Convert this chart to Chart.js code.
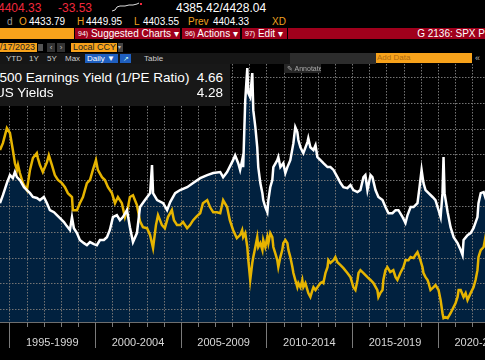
<!DOCTYPE html>
<html>
<head>
<meta charset="utf-8">
<script src="https://cdn.jsdelivr.net/npm/chart.js@4.4.0/dist/chart.umd.min.js"></script>
<style>
  body { margin: 0; background: #000; width: 485px; height: 360px; overflow: hidden; position: relative;
         font-family: "Liberation Sans", Arial, sans-serif; color: #fff; }
  .t { position: absolute; white-space: nowrap; }
  .bar { position: absolute; overflow: hidden; white-space: nowrap; }
  .org { color: #f0a020; }
  .red { color: #f0283c; }
  .fn { font-size: 7px; vertical-align: 1px; }
  #chartBox { position: absolute; left: 0; top: 64px; width: 485px; height: 296px; }
  #legendBox { position: absolute; left: 0; top: 64px; width: 230px; height: 42px; background: #181818; font-size: 13.5px; }
  #legendBox .row { position: absolute; left: 0; width: 223px; height: 16px; line-height: 16px; }
  #legendBox .val { position: absolute; right: 0; top: 0; }
</style>
</head>
<body>

<!-- quote lines -->
<div class="t red" style="left:-2px;top:1px;font-size:12px;line-height:14px">4404.33</div>
<div class="t red" style="left:58px;top:1px;font-size:12px;line-height:14px">-33.53</div>
<svg style="position:absolute;left:111px;top:1px" width="34" height="12">
  <polyline points="1,10 4,9 6,6 9,5 14,5 18,4 22,4 26,3 28,2" fill="none" stroke="#ddd" stroke-width="1"/>
  <rect x="29" y="2" width="2" height="2" fill="#f0283c"/>
</svg>
<div class="t" style="left:176px;top:1px;font-size:12px;line-height:14px">4385.42/4428.04</div>

<div class="t" style="top:16px;font-size:10px;line-height:11px;left:0;width:485px">
  <span class="t" style="left:7px;color:#999">d</span>
  <span class="t org" style="left:19px">O</span>
  <span class="t" style="left:29px">4433.79</span>
  <span class="t org" style="left:77px">H</span>
  <span class="t" style="left:86px">4449.95</span>
  <span class="t org" style="left:134px">L</span>
  <span class="t" style="left:143px">4403.55</span>
  <span class="t org" style="left:188px">Prev</span>
  <span class="t" style="left:213px">4404.33</span>
  <span class="t org" style="left:272px">XD</span>
</div>

<!-- red menu bar -->
<div class="bar" style="left:0;top:28px;width:74px;height:11px;background:#f7a21b"></div>
<div class="bar" style="left:75px;top:28px;width:105px;height:11px;background:#a0001c;font-size:10px;line-height:11px;padding-left:3px;box-sizing:border-box"><span class="fn">94)</span> Suggested Charts &#9662;</div>
<div class="bar" style="left:182px;top:28px;width:58px;height:11px;background:#a0001c;font-size:10px;line-height:11px;padding-left:3px;box-sizing:border-box"><span class="fn">96)</span> Actions &#9662;</div>
<div class="bar" style="left:242px;top:28px;width:45px;height:11px;background:#a0001c;font-size:10px;line-height:11px;padding-left:3px;box-sizing:border-box"><span class="fn">97)</span> Edit &#9662;</div>
<div class="bar" style="left:288px;top:28px;width:197px;height:11px;background:#a0001c;font-size:10px;line-height:11px;text-align:right">G 2136: SPX P</div>

<!-- date / currency row -->
<div class="bar" style="left:0;top:43px;width:37px;height:9px;background:#f7a21b;color:#222;font-size:9px;line-height:9px">/17/2023</div>
<div class="bar" style="left:38px;top:44px;width:5px;height:7px;background:#555"></div>
<div class="bar" style="left:47px;top:43px;width:8px;height:9px;background:#333;color:#bbb;font-size:8px;line-height:9px;text-align:center">&lsaquo;</div>
<div class="bar" style="left:57px;top:43px;width:8px;height:9px;background:#333;color:#bbb;font-size:8px;line-height:9px;text-align:center">&rsaquo;</div>
<div class="bar" style="left:71px;top:43px;width:46px;height:9px;background:#f7a21b;color:#222;font-size:9px;line-height:9px;padding-left:2px;box-sizing:border-box">Local CCY</div>
<div class="bar" style="left:118px;top:43px;width:5px;height:9px;background:#444;color:#bbb;font-size:6px;line-height:9px">&#9662;</div>

<!-- toolbar row -->
<div class="bar" style="left:0;top:53px;width:290px;height:11px;background:#161616"></div>
<div class="t" style="top:53px;left:0;font-size:8px;line-height:11px;color:#ccc;width:290px">
  <span class="t" style="left:6px">YTD</span>
  <span class="t" style="left:29px">1Y</span>
  <span class="t" style="left:47px">5Y</span>
  <span class="t" style="left:65px">Max</span>
  <span class="t" style="left:144px">Table</span>
</div>
<div class="bar" style="left:85px;top:54px;width:33px;height:9px;background:#1f5fbf;color:#fff;font-size:8px;line-height:9px;padding-left:2px;box-sizing:border-box">Daily &#9660;</div>
<div class="bar" style="left:120px;top:54px;width:11px;height:9px;background:#1f5fbf;color:#cfe;font-size:7px;line-height:9px;text-align:center">&#8599;</div>
<div class="bar" style="left:290px;top:53px;width:86px;height:11px;background:#2c2c2c"></div>
<div class="bar" style="left:376px;top:53px;width:96px;height:10px;background:#f7a21b;color:#b06a10;font-size:8px;line-height:10px;padding-left:1px;box-sizing:border-box">Add Data</div>
<div class="t" style="left:475px;top:53px;font-size:9px;line-height:10px;color:#bbb">&laquo;</div>

<div id="chartBox"><canvas id="chart"></canvas></div>

<div id="legendBox">
  <div class="row" style="top:6px"><span class="t" style="left:-31px">S&amp;P 500 Earnings Yield (1/PE Ratio)</span><span class="val">4.66</span></div>
  <div class="row" style="top:21px"><span class="t" style="left:-5px">US Yields</span><span class="val">4.28</span></div>
</div>
<div class="bar" style="left:284px;top:64px;width:37px;height:9px;background:#262626;color:#aaa;font-size:7px;line-height:9px;padding-left:3px;box-sizing:border-box">&#9998; Annotate</div>

<script>
// --- Data (fractional years, percent) ---
const eyYears = [1994.45, 1994.62, 1994.85, 1995.03, 1995.20, 1995.32, 1995.44, 1995.61, 1995.85, 1996.02,
  1996.20, 1996.37, 1996.60, 1996.78, 1997.01, 1997.19, 1997.36, 1997.60, 1997.77, 1997.95,
  1998.18, 1998.35, 1998.53, 1998.65, 1998.76, 1998.94, 1999.11, 1999.35, 1999.52, 1999.70,
  1999.93, 2000.10, 2000.28, 2000.51, 2000.69, 2000.86, 2001.04, 2001.27, 2001.45, 2001.62,
  2001.86, 2002.03, 2002.21, 2002.44, 2002.62, 2002.91, 2003.21, 2003.32, 2003.38, 2003.62,
  2003.97, 2004.20, 2004.38, 2004.67, 2004.96, 2005.37, 2005.72, 2006.13, 2006.54, 2006.89,
  2007.30, 2007.47, 2007.70, 2008.05, 2008.17, 2008.35, 2008.46, 2008.58, 2008.64, 2008.76,
  2008.88, 2008.94, 2009.05, 2009.17, 2009.23, 2009.35, 2009.46, 2009.52, 2009.64, 2009.76,
  2009.81, 2009.93, 2010.05, 2010.11, 2010.22, 2010.34, 2010.40, 2010.63, 2010.69, 2010.81,
  2010.98, 2011.10, 2011.22, 2011.39, 2011.57, 2011.68, 2011.80, 2011.86, 2011.98, 2012.15,
  2012.39, 2012.44, 2012.56, 2012.74, 2012.86, 2012.97, 2013.15, 2013.32, 2013.56, 2013.73,
  2013.91, 2014.14, 2014.32, 2014.49, 2014.72, 2014.90, 2015.07, 2015.31, 2015.48, 2015.66,
  2015.77, 2015.89, 2016.07, 2016.18, 2016.36, 2016.53, 2016.77, 2016.94, 2017.12, 2017.35,
  2017.53, 2017.70, 2017.94, 2018.11, 2018.23, 2018.41, 2018.58, 2018.81, 2018.93, 2019.05,
  2019.16, 2019.28, 2019.46, 2019.69, 2019.86, 2020.04, 2020.16, 2020.27, 2020.33, 2020.39,
  2020.57, 2020.74, 2020.92, 2021.15, 2021.33, 2021.44, 2021.50, 2021.73, 2021.91, 2022.08,
  2022.31, 2022.37, 2022.50, 2022.67, 2022.82];
const eyValues = [5.11, 5.42, 5.89, 6.20, 6.08, 6.32, 6.12, 6.01, 5.73, 5.62,
  5.50, 5.35, 5.31, 5.23, 5.35, 5.11, 4.84, 4.76, 4.65, 4.53,
  4.38, 4.22, 4.07, 4.57, 4.14, 3.95, 3.68, 3.56, 3.48, 3.60,
  3.52, 3.48, 3.68, 3.68, 3.79, 4.07, 4.57, 4.65, 4.45, 4.57,
  4.84, 4.18, 3.60, 3.95, 4.96, 5.23, 5.50, 6.59, 5.50, 5.23,
  5.11, 4.84, 5.15, 5.50, 5.62, 5.73, 5.89, 6.08, 6.20, 6.28,
  6.32, 6.12, 6.32, 6.78, 6.97, 6.66, 6.40, 6.78, 6.51, 9.11,
  10.35, 9.38, 9.22, 10.16, 8.72, 8.06, 7.28, 6.51, 5.89, 5.50,
  5.23, 4.96, 4.76, 5.23, 5.73, 6.01, 6.51, 6.78, 6.90, 6.51,
  6.66, 6.28, 6.51, 6.78, 7.44, 8.06, 7.87, 7.56, 7.28, 7.05,
  7.48, 7.63, 7.28, 7.17, 7.36, 6.90, 6.78, 6.66, 6.51, 6.51,
  6.40, 6.12, 5.89, 5.73, 5.69, 5.81, 5.62, 5.54, 5.62, 6.12,
  6.20, 5.62, 6.20, 6.12, 5.62, 5.35, 5.23, 4.96, 4.72, 4.72,
  4.84, 4.84, 4.57, 4.34, 4.65, 4.96, 4.96, 5.11, 5.73, 6.40,
  5.89, 5.62, 5.50, 5.35, 5.23, 4.84, 4.57, 5.50, 6.90, 5.50,
  4.76, 4.18, 3.79, 3.56, 3.29, 3.10, 3.68, 3.87, 3.95, 4.14,
  4.57, 5.11, 5.50, 5.54, 5.23];

const usYears = [1994.45, 1994.62, 1994.85, 1995.03, 1995.20, 1995.32, 1995.44, 1995.50, 1995.61, 1995.79,
  1996.02, 1996.20, 1996.37, 1996.60, 1996.66, 1996.78, 1996.95, 1997.19, 1997.30, 1997.48,
  1997.65, 1997.83, 1998.06, 1998.24, 1998.41, 1998.65, 1998.70, 1998.94, 1999.11, 1999.29,
  1999.52, 1999.70, 1999.87, 2000.05, 2000.16, 2000.40, 2000.57, 2000.75, 2000.98, 2001.16,
  2001.33, 2001.56, 2001.74, 2001.92, 2002.03, 2002.21, 2002.44, 2002.62, 2002.79, 2003.03,
  2003.21, 2003.38, 2003.55, 2003.67, 2003.90, 2004.07, 2004.25, 2004.48, 2004.60, 2004.78,
  2004.96, 2005.13, 2005.37, 2005.54, 2005.72, 2005.94, 2006.13, 2006.29, 2006.54, 2006.70,
  2006.89, 2007.11, 2007.30, 2007.47, 2007.70, 2007.86, 2008.05, 2008.27, 2008.46, 2008.58,
  2008.64, 2008.76, 2008.88, 2008.94, 2009.05, 2009.17, 2009.23, 2009.35, 2009.46, 2009.52,
  2009.64, 2009.76, 2009.81, 2009.93, 2010.05, 2010.11, 2010.22, 2010.34, 2010.40, 2010.51,
  2010.63, 2010.69, 2010.81, 2010.92, 2010.98, 2011.10, 2011.22, 2011.28, 2011.39, 2011.51,
  2011.57, 2011.68, 2011.80, 2011.86, 2011.98, 2012.09, 2012.15, 2012.27, 2012.39, 2012.44,
  2012.56, 2012.68, 2012.74, 2012.86, 2012.97, 2013.15, 2013.26, 2013.32, 2013.44, 2013.56,
  2013.61, 2013.73, 2013.91, 2014.02, 2014.14, 2014.32, 2014.49, 2014.72, 2014.90, 2015.07,
  2015.19, 2015.31, 2015.37, 2015.48, 2015.66, 2015.89, 2016.07, 2016.24, 2016.47, 2016.53,
  2016.64, 2016.77, 2016.82, 2016.94, 2017.05, 2017.22, 2017.40, 2017.53, 2017.64, 2017.81,
  2017.99, 2018.11, 2018.28, 2018.41, 2018.58, 2018.69, 2018.81, 2018.98, 2019.10, 2019.16,
  2019.28, 2019.40, 2019.46, 2019.57, 2019.75, 2019.86, 2020.04, 2020.16, 2020.27, 2020.33,
  2020.45, 2020.57, 2020.74, 2020.92, 2021.03, 2021.15, 2021.21, 2021.33, 2021.50, 2021.62,
  2021.73, 2021.91, 2022.08, 2022.20, 2022.31, 2022.37, 2022.50, 2022.67, 2022.82];
const usValues = [7.17, 7.44, 8.02, 7.83, 7.17, 6.66, 6.40, 6.59, 6.28, 5.89,
  5.62, 6.40, 6.86, 7.05, 6.86, 6.59, 6.32, 6.70, 6.97, 6.59,
  6.20, 6.01, 5.89, 5.73, 5.50, 5.35, 4.84, 4.84, 5.11, 5.35,
  5.89, 6.01, 6.40, 6.78, 6.40, 6.12, 6.01, 5.73, 5.50, 5.11,
  5.35, 5.11, 4.57, 4.96, 5.35, 5.42, 5.04, 4.41, 4.18, 4.14,
  3.87, 3.37, 4.26, 4.65, 4.26, 4.14, 4.57, 4.84, 4.45, 4.26,
  4.26, 4.38, 4.14, 4.26, 4.45, 4.61, 4.72, 5.11, 5.23, 4.96,
  4.76, 4.76, 4.72, 5.23, 4.96, 4.45, 4.07, 3.75, 3.87, 4.07,
  3.79, 3.95, 3.41, 2.90, 2.13, 2.79, 3.02, 3.41, 3.79, 3.41,
  3.56, 3.29, 3.68, 3.41, 3.79, 3.56, 3.95, 3.79, 3.41, 3.17,
  2.90, 2.63, 3.02, 3.29, 3.56, 3.68, 3.56, 3.29, 3.02, 2.63,
  2.40, 2.13, 1.85, 2.01, 1.85, 2.13, 1.85, 2.01, 1.74, 1.62,
  1.47, 1.74, 1.85, 1.74, 1.85, 2.01, 2.05, 2.01, 2.40, 2.63,
  2.90, 2.79, 2.90, 3.02, 2.82, 2.71, 2.59, 2.40, 2.24, 1.85,
  1.74, 2.13, 2.40, 2.51, 2.40, 2.24, 2.13, 2.01, 1.74, 1.47,
  1.62, 1.74, 2.13, 2.51, 2.63, 2.44, 2.51, 2.24, 2.13, 2.40,
  2.63, 2.90, 2.90, 3.02, 2.98, 3.10, 3.21, 2.90, 2.63, 2.40,
  2.24, 2.13, 2.01, 1.74, 1.85, 1.93, 1.74, 1.35, 0.84, 0.65,
  0.69, 0.65, 0.84, 1.08, 1.23, 1.47, 1.74, 1.74, 1.47, 1.62,
  1.35, 1.62, 1.85, 2.13, 2.51, 3.02, 3.29, 3.41, 3.95];

// axis setup
const yearTicks = [1995, 1996, 1997, 1998, 1999, 2000, 2001, 2002, 2003, 2004, 2005, 2006, 2007, 2008,
  2009, 2010, 2011, 2012, 2013, 2014, 2015, 2016, 2017, 2018, 2019, 2020, 2021, 2022];
const periodStarts = [1990, 1995, 2000, 2005, 2010, 2015, 2020];
const periodLabels = ['1990-1994', '1995-1999', '2000-2004', '2005-2009', '2010-2014', '2015-2019', '2020-2024'];
const yGridValues = [1, 2, 3, 4, 5, 6, 7, 8, 9, 10];

const toPoints = (xs, ys) => xs.map((x, i) => ({ x: x, y: ys[i] }));

// dotted grid over the filled area, then the bottom axis with year ticks and period labels
const bloombergAxes = {
    id: 'bloombergAxes',
    beforeDatasetsDraw(chart) {
        const { ctx, chartArea } = chart;
        const x = chart.scales.x;
        const y = chart.scales.y;
        // the navy fill is already painted by the filler, so the dots sit on top of it
        ctx.save();
        ctx.fillStyle = '#747474';
        yearTicks.forEach(yr => {
            const px = Math.round(x.getPixelForValue(yr));
            for (let py = Math.ceil(chartArea.top); py < chartArea.bottom; py += 3) {
                ctx.fillRect(px, py, 1, 1.5);
            }
        });
        yGridValues.forEach(v => {
            const py = Math.round(y.getPixelForValue(v));
            for (let px = 0; px < chart.width; px += 3) {
                ctx.fillRect(px, py, 1.5, 1);
            }
        });
        ctx.restore();
    },
    afterDraw(chart) {
        const { ctx, chartArea } = chart;
        const x = chart.scales.x;
        const y0 = Math.round(chartArea.bottom);
        ctx.save();
        ctx.fillStyle = '#6e6e6e';
        ctx.fillRect(0, y0, chart.width, 1);
        ctx.fillStyle = '#7a7a7a';
        yearTicks.forEach(yr => {
            const px = Math.round(x.getPixelForValue(yr));
            const len = yr % 5 === 0 ? 26 : 5;
            ctx.fillRect(px, y0, 1, len);
        });
        ctx.fillStyle = '#d8d8d8';
        ctx.font = '11px "Liberation Sans", Arial, sans-serif';
        ctx.textAlign = 'center';
        ctx.textBaseline = 'middle';
        periodLabels.forEach((label, i) => {
            ctx.fillText(label, x.getPixelForValue(periodStarts[i] + 2.5), y0 + 21);
        });
        ctx.restore();
    }
};

new Chart(document.getElementById('chart'), {
    type: 'line',
    data: {
        datasets: [
            {
                label: 'S&P 500 Earnings Yield (1/PE Ratio)',
                data: toPoints(eyYears, eyValues),
                borderColor: '#ffffff',
                borderWidth: 2.5,
                backgroundColor: '#01213f',
                fill: 'start',
                pointRadius: 0,
                tension: 0
            },
            {
                label: 'US Yields',
                data: toPoints(usYears, usValues),
                borderColor: '#e6b400',
                borderWidth: 2.5,
                fill: false,
                pointRadius: 0,
                tension: 0
            }
        ]
    },
    options: {
        responsive: true,
        maintainAspectRatio: false,
        animation: false,
        layout: { padding: 0 },
        plugins: {
            legend: { display: false },
            tooltip: { enabled: false },
            filler: { drawTime: 'beforeDatasetsDraw' }
        },
        scales: {
            x: {
                type: 'linear',
                min: 1994.45,
                max: 2022.75,
                grid: { display: false },
                border: { display: false },
                ticks: { display: false },
                afterFit: s => { s.height = 38; }
            },
            y: {
                type: 'linear',
                min: 0.5,
                max: 10.51,
                grid: { display: false },
                border: { display: false },
                ticks: { display: false },
                afterFit: s => { s.width = 0; }
            }
        }
    },
    plugins: [bloombergAxes]
});
</script>
</body>
</html>
